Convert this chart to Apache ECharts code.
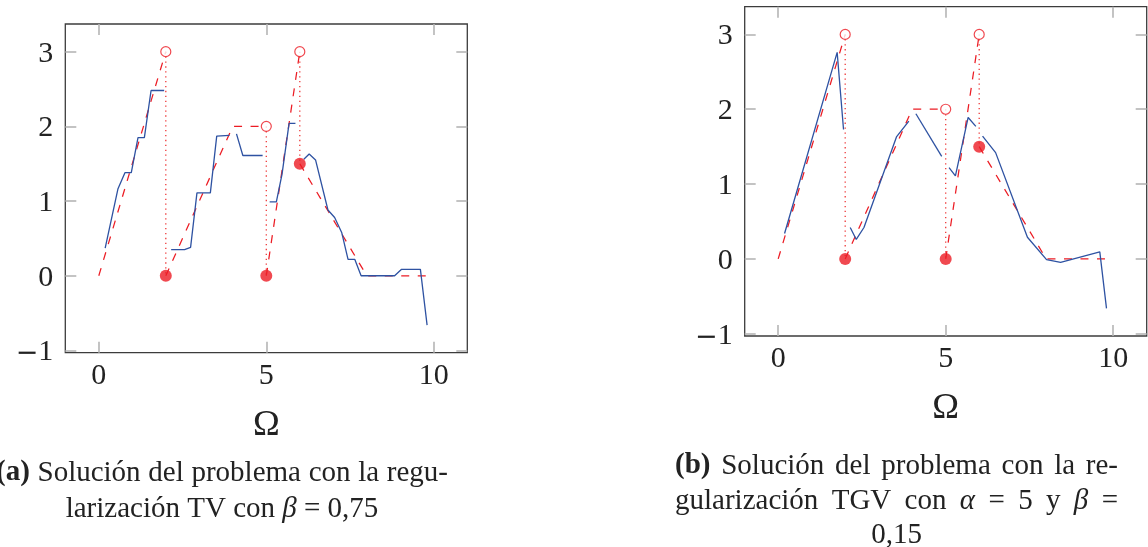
<!DOCTYPE html>
<html>
<head>
<meta charset="utf-8">
<script src="https://cdn.jsdelivr.net/npm/echarts@6/dist/echarts.min.js"></script>
<style>
  html, body { margin: 0; padding: 0; background: #fff; }
  #chart { width: 1148px; height: 547px; }
</style>
</head>
<body>
<div id="chart"></div>
<script>
// ---- tick values ----
const xTicks = [0, 5, 10];
const yTicks = [-1, 0, 1, 2, 3];

// ---- exact solution: piecewise linear, with jumps at x = 2, 5, 6 ----
const exact1 = [[0, 0], [2, 3]];
const exact2 = [[2, 0], [4, 2], [5, 2]];
const exact3 = [[5, 0], [6, 3]];
const exact4 = [[6, 1.5], [8, 0], [9.8, 0]];
const jumpX = [2, 5, 6];
const jumpTop = [3, 2, 3];      // open circles (left limits)
const jumpBottom = [0, 0, 1.5]; // filled circles (values taken)

// ---- TV-regularised reconstruction (panel a) ----
const tv1 = [[0.19, 0.37], [0.57, 1.16], [0.78, 1.38], [0.97, 1.38], [1.17, 1.85], [1.36, 1.85], [1.56, 2.48], [1.95, 2.48]];
const tv2 = [[2.16, 0.35], [2.56, 0.35], [2.74, 0.38], [2.93, 1.11], [3.33, 1.11], [3.52, 1.87], [3.9, 1.88]];
const tv3 = [[4.11, 1.9], [4.3, 1.61], [4.89, 1.61]];
const tv4 = [[5.1, 0.99], [5.3, 0.99], [5.47, 1.36], [5.68, 2.04], [5.87, 2.04]];
const tv5 = [[6.12, 1.56], [6.28, 1.63], [6.47, 1.55], [6.84, 0.88], [7.04, 0.78], [7.25, 0.58], [7.44, 0.22], [7.64, 0.22], [7.83, 0], [8.83, 0], [9.03, 0.085], [9.6, 0.085], [9.8, -0.66]];

// ---- TGV-regularised reconstruction (panel b) ----
const tgv1 = [[0.19, 0.34], [1.76, 2.76], [1.95, 1.73]];
const tgv2 = [[2.15, 0.42], [2.33, 0.26], [2.56, 0.42], [3.53, 1.63], [3.9, 1.84]];
const tgv3 = [[4.11, 1.94], [4.88, 1.37]];
const tgv4 = [[5.1, 1.22], [5.29, 1.11], [5.67, 1.89], [5.9, 1.77]];
const tgv5 = [[6.1, 1.64], [6.49, 1.42], [7.44, 0.29], [8.01, -0.01], [8.43, -0.045], [9.6, 0.095], [9.8, -0.66]];

// ---- styling ----
const SERIF = 'Liberation Serif';
const TXT = '#222';
const RED = '#ec1c24';
const BLUE = '#2e52a2';
const TICK_COLOR = '#b5b5b5';
const CAP_SIZE = 29;

const chart = echarts.init(document.getElementById('chart'), null, { renderer: 'canvas' });

const grids = [
  { left: 65.3, top: 24, width: 402, height: 328.7 },
  { left: 744.7, top: 6.7, width: 402, height: 329.3 }
].map(g => Object.assign(g, { show: true, borderColor: '#3c3c3c', borderWidth: 1.3, backgroundColor: 'transparent' }));

function xAxisFor(gi, pos) {
  const main = pos === 'bottom';
  return {
    gridIndex: gi, type: 'value', position: pos, min: -1, max: 11,
    axisLine: { show: false, onZero: false }, splitLine: { show: false },
    axisTick: { show: true, inside: true, length: 11, customValues: xTicks, lineStyle: { color: TICK_COLOR, width: 1.6 } },
    axisLabel: { show: main, customValues: xTicks, margin: 8, fontFamily: SERIF, fontSize: 30, lineHeight: 30, color: TXT },
    name: main ? 'Ω' : '', nameLocation: 'middle', nameGap: 55,
    nameTextStyle: { fontFamily: SERIF, fontSize: 36, lineHeight: 36, color: TXT }
  };
}
function yAxisFor(gi, pos) {
  const main = pos === 'left';
  return {
    gridIndex: gi, type: 'value', position: pos, min: -1.03, max: 3.37,
    axisLine: { show: false, onZero: false }, splitLine: { show: false },
    axisTick: { show: true, inside: true, length: 11, customValues: yTicks, lineStyle: { color: TICK_COLOR, width: 1.6 } },
    axisLabel: {
      show: main, customValues: yTicks, margin: 12, fontFamily: SERIF, fontSize: 30, color: TXT,
      padding: [4, 0, 0, 0],
      formatter: v => (v < 0 ? '{m|−}' + Math.abs(v) : String(v)),
      rich: { m: { fontFamily: 'DejaVu Sans', fontSize: 27, color: TXT, padding: [4, 0, 0, 0] } }
    }
  };
}

function lineSeries(axisIdx, data, style, z) {
  return {
    type: 'line', xAxisIndex: axisIdx, yAxisIndex: axisIdx, data,
    symbol: 'none', showSymbol: false, silent: true, animation: false, clip: false,
    lineStyle: style, z
  };
}

function panelSeries(axisIdx, pieces) {
  const out = [];
  const dashed = { color: RED, width: 1.25, type: [8, 8.5] };
  [exact1, exact2, exact3, exact4].forEach(p => out.push(lineSeries(axisIdx, p, dashed, 2)));
  jumpX.forEach((x, k) => out.push(lineSeries(axisIdx, [[x, jumpTop[k]], [x, jumpBottom[k]]],
    { color: '#ee3a3a', width: 1.3, type: [1.3, 3.6] }, 2)));
  pieces.forEach(p => out.push(lineSeries(axisIdx, p, { color: BLUE, width: 1.3, type: 'solid' }, 3)));
  out.push({
    type: 'scatter', xAxisIndex: axisIdx, yAxisIndex: axisIdx, silent: true, animation: false,
    data: jumpX.map((x, k) => [x, jumpTop[k]]), symbol: 'circle', symbolSize: 10,
    itemStyle: { color: '#fff', borderColor: RED, borderWidth: 1.2 }, z: 4
  });
  out.push({
    type: 'scatter', xAxisIndex: axisIdx, yAxisIndex: axisIdx, silent: true, animation: false,
    data: jumpX.map((x, k) => [x, jumpBottom[k]]), symbol: 'circle', symbolSize: 12,
    itemStyle: { color: RED }, z: 4
  });
  return out;
}

// ---- captions: word-level layout so lines can be justified like the typeset text ----
const measureCtx = document.createElement('canvas').getContext('2d');
function fontOf(w) { return (w.i ? 'italic ' : '') + (w.b ? 'bold ' : '') + CAP_SIZE + 'px "' + SERIF + '"'; }
function widthOf(text, font) { measureCtx.font = font; return measureCtx.measureText(text).width; }
function captionLine(words, x0, x1, yMid, justify) {
  const ws = words.map(w => widthOf(w.t, fontOf(w)));
  const total = ws.reduce((a, b) => a + b, 0);
  const space = widthOf(' ', fontOf({}));
  let gap, x;
  if (justify) { gap = (x1 - x0 - total) / (words.length - 1); x = x0; }
  else { gap = space; x = (x0 + x1) / 2 - (total + space * (words.length - 1)) / 2; }
  return words.map((w, k) => {
    const el = {
      type: 'text', x: x, y: yMid, silent: true,
      style: { text: w.t, font: fontOf(w), fill: TXT, align: 'left', verticalAlign: 'middle', textAlign: 'left', textVerticalAlign: 'middle' }
    };
    x += ws[k] + gap;
    return el;
  });
}
const W = t => ({ t });
const capA1 = [{ t: '(a)', b: true }, W('Solución'), W('del'), W('problema'), W('con'), W('la'), W('regu-')];
const capA2 = [W('larización'), W('TV'), W('con'), { t: 'β', i: true }, W('='), W('0,75')];
const capB1 = [{ t: '(b)', b: true }, W('Solución'), W('del'), W('problema'), W('con'), W('la'), W('re-')];
const capB2 = [W('gularización'), W('TGV'), W('con'), { t: 'α', i: true }, W('='), W('5'), W('y'), { t: 'β', i: true }, W('=')];
const capB3 = [W('0,15')];

const graphic = [].concat(
  captionLine(capA1, -4, 448, 473, true),
  captionLine(capA2, -4, 448, 509, false),
  captionLine(capB1, 675, 1118, 466, true),
  captionLine(capB2, 675, 1118, 501, true),
  captionLine(capB3, 675, 1118, 535, false)
);

chart.setOption({
  animation: false,
  backgroundColor: '#fff',
  grid: grids,
  xAxis: [xAxisFor(0, 'bottom'), xAxisFor(0, 'top'), xAxisFor(1, 'bottom'), xAxisFor(1, 'top')],
  yAxis: [yAxisFor(0, 'left'), yAxisFor(0, 'right'), yAxisFor(1, 'left'), yAxisFor(1, 'right')],
  series: [].concat(
    panelSeries(0, [tv1, tv2, tv3, tv4, tv5]),
    panelSeries(2, [tgv1, tgv2, tgv3, tgv4, tgv5])
  ),
  graphic: graphic
});
</script>
</body>
</html>
